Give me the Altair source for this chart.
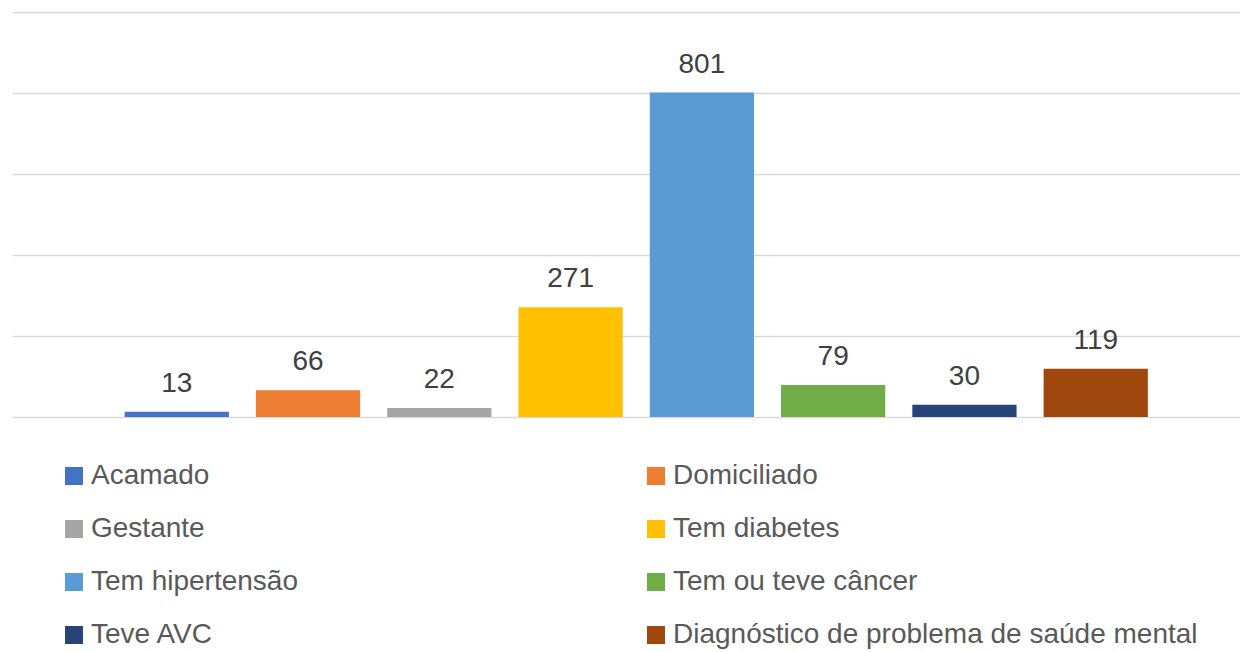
import altair as alt
import pandas as pd

categorias = ["Acamado", "Domiciliado", "Gestante", "Tem diabetes",
              "Tem hipertensão", "Tem ou teve câncer", "Teve AVC",
              "Diagnóstico de problema de saúde mental"]
valores = [13, 66, 22, 271, 801, 79, 30, 119]
cores = ["#4472C4", "#ED7D31", "#A5A5A5", "#FFC000",
         "#5B9BD5", "#70AD47", "#264478", "#9E480E"]
grade = [0, 200, 400, 600, 800, 1000]

df = pd.DataFrame({"categoria": categorias, "valor": valores})

FONT = "Liberation Sans"

x = alt.X("categoria:N", sort=categorias, axis=None,
          scale=alt.Scale(paddingInner=0.206, paddingOuter=0.78, align=0.55))
y = alt.Y("valor:Q",
          scale=alt.Scale(domain=[0, 1000], nice=False, zero=True),
          axis=alt.Axis(values=grade, labels=False, ticks=False, domain=False,
                        grid=True, gridColor="#D9D9D9", gridWidth=1.5, title=None))

bars = alt.Chart(df).mark_bar().encode(
    x=x, y=y,
    color=alt.Color("categoria:N", sort=categorias,
                    scale=alt.Scale(domain=categorias, range=cores),
                    legend=alt.Legend(orient="none", legendX=48, legendY=450,
                                      direction="horizontal",
                                      columns=2, columnPadding=343, rowPadding=25,
                                      symbolType="square", symbolSize=324,
                                      symbolStrokeWidth=0, labelFont=FONT,
                                      labelFontSize=28, labelColor="#595959",
                                      labelOffset=3, labelLimit=1000,
                                      title=None, padding=0)),
)

labels = alt.Chart(df).mark_text(font=FONT, fontSize=28, color="#404040",
                                 baseline="alphabetic", dy=-20).encode(
    x=x, y=y, text=alt.Text("valor:Q"))

chart = alt.layer(bars, labels).properties(
    width=1228, height=405,
    autosize=alt.AutoSizeParams(type="none"),
    padding={"left": 4, "top": 4, "right": 0, "bottom": 234},
).configure_view(stroke=None)

chart.save("out.html", embed_options={"renderer": "svg", "actions": False})
